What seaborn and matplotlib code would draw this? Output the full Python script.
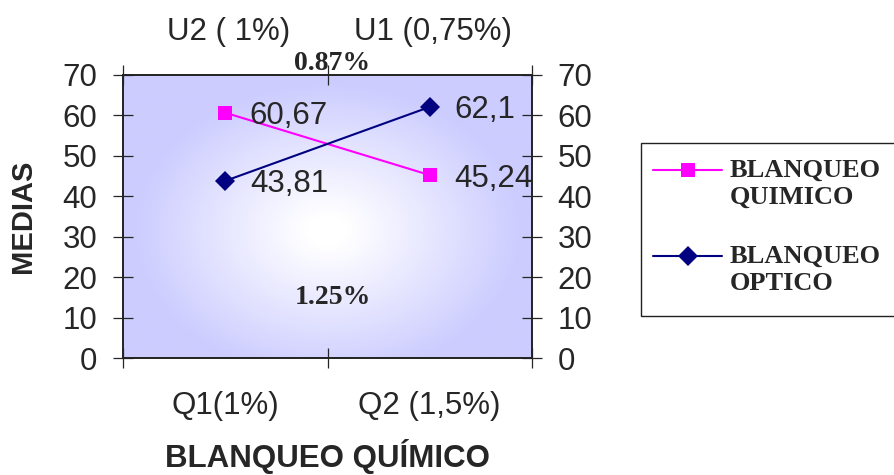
import numpy as np
import pandas as pd
import seaborn as sns
import matplotlib.pyplot as plt
from matplotlib.lines import Line2D
from matplotlib.patches import Rectangle

# data
categorias = ['Q1(1%)', 'Q2 (1,5%)']
quimico = [60.67, 45.24]
optico = [43.81, 62.1]
etiquetas_quimico = ['60,67', '45,24']
etiquetas_optico = ['43,81', '62,1']
top_labels = ['U2 ( 1%)', 'U1 (0,75%)']
series = ['BLANQUEO\nQUIMICO', 'BLANQUEO\nOPTICO']

df = pd.DataFrame({
    'cat': categorias * 2,
    'valor': quimico + optico,
    'serie': [series[0]] * 2 + [series[1]] * 2,
})

sns.set_style('white')
plt.rcParams['font.family'] = ['Liberation Sans', 'DejaVu Sans']

W, H = 894, 475
fig = plt.figure(figsize=(W / 100, H / 100), dpi=100)
ax = fig.add_axes([123/W, 1-358/H, (532-123)/W, (358-75)/H])

# radial gradient background (white centre, lavender edges)
yy, xx = np.mgrid[0:1:200j, 0:1:300j]
r = np.sqrt(((xx - 0.5) / 0.5) ** 2 + ((yy - 0.45) / 0.55) ** 2)
t = np.clip((r - 0.1) / 0.85, 0, 1) ** 1.0
img = np.dstack([1 - 0.2 * t, 1 - 0.2 * t, np.ones_like(t)])
ax.imshow(img, extent=[0, 1, 0, 1], transform=ax.transAxes, origin='lower',
          aspect='auto', zorder=0)

colors = {series[0]: '#FF00FF', series[1]: '#000080'}
sns.lineplot(data=df, x='cat', y='valor', hue='serie', style='serie',
             markers={series[0]: 's', series[1]: 'D'},
             dashes=False, palette=colors, markersize=10.5, linewidth=1.5,
             markeredgewidth=0, ax=ax, legend=False, zorder=3)

for i in range(2):
    ax.text(i + 0.12, quimico[i], etiquetas_quimico[i], fontsize=22.5,
            va='center_baseline', ha='left', zorder=4)
    ax.text(i + 0.12, optico[i], etiquetas_optico[i], fontsize=22.5,
            va='center_baseline', ha='left', zorder=4)

ax.set_xlim(-0.5, 1.5)
ax.set_ylim(0, 70)
ax.set_yticks(range(0, 71, 10))
ax.set_xticks([0, 1])
ax.set_xticklabels(categorias, fontsize=22.5)
ax.set_xticks([-0.5, 0.5, 1.5], minor=True)
ax.tick_params(axis='x', which='major', length=0, pad=24)
ax.tick_params(axis='x', which='minor', direction='inout', length=15,
               top=True, bottom=True, width=0.9)
ax.tick_params(axis='y', direction='inout', length=15, width=0.9,
               labelsize=22.5, left=True, pad=11)
for s in ax.spines.values():
    s.set_linewidth(1.2)
    s.set_color('#222222')

ax2 = ax.twinx()
ax2.set_ylim(0, 70)
ax2.set_yticks(range(0, 71, 10))
ax2.tick_params(axis='y', direction='inout', length=15, width=0.9,
                labelsize=22.5, pad=11)
for s in ax2.spines.values():
    s.set_linewidth(1.2)
    s.set_color('#222222')

ax.set_xlabel('BLANQUEO QUÍMICO', fontsize=22.5, fontweight='bold')
ax.xaxis.set_label_coords(0.5, -0.285)
ax.set_ylabel('MEDIAS', fontsize=21, fontweight='bold')
ax.yaxis.set_label_coords(-0.21, 0.5)

# top labels and percentages
ax.text(0.259, 1.166, top_labels[0], transform=ax.transAxes, fontsize=22.5,
        ha='center', va='center_baseline')
ax.text(0.757, 1.166, top_labels[1], transform=ax.transAxes, fontsize=22.5,
        ha='center', va='center_baseline')
ax.text(0.511, 1.053, '0.87%', transform=ax.transAxes, fontsize=20,
        fontweight='bold', family='Liberation Serif', ha='center',
        va='center_baseline')
ax.text(0.513, 0.223, '1.25%', transform=ax.transAxes, fontsize=20,
        fontweight='bold', family='Liberation Serif', ha='center',
        va='center_baseline')

# legend drawn by hand (handle aligned with first text line)
def fx(x):
    return x / W

def fy(y):
    return 1 - y / H

fig.add_artist(Rectangle((fx(641), fy(316)), fx(280), (316-143)/H,
                         transform=fig.transFigure, fill=False,
                         edgecolor='#222222', linewidth=1.0))
for name, ly, mk in [(series[0], 170, 's'), (series[1], 256, 'D')]:
    fig.add_artist(Line2D([fx(653), fx(722)], [fy(ly), fy(ly)],
                          transform=fig.transFigure, color=colors[name], lw=1.5))
    fig.add_artist(Line2D([fx(687.5)], [fy(ly)], transform=fig.transFigure,
                          color=colors[name], marker=mk, markersize=10,
                          markeredgewidth=0, lw=0))
    fig.text(fx(730), fy(ly - 11), name, fontsize=19, fontweight='bold',
             family='Liberation Serif', ha='left', va='top', linespacing=1.2)

fig.savefig('out.png', dpi=100)
